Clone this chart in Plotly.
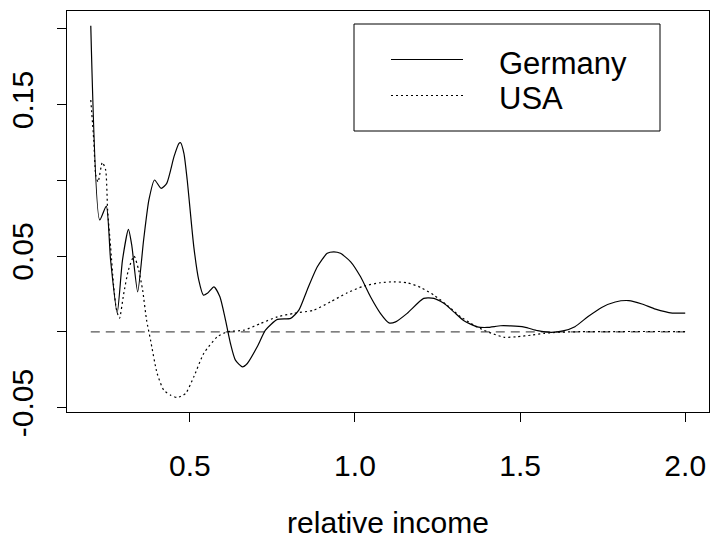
import plotly.graph_objects as go

# Germany: relative-income density difference curve
germany_x = [0.200, 0.227, 0.247, 0.260, 0.280, 0.296, 0.314, 0.324, 0.342, 0.360,
             0.376, 0.393, 0.413, 0.430, 0.452, 0.467, 0.472, 0.482, 0.492, 0.512,
             0.527, 0.541, 0.553, 0.573, 0.591, 0.608, 0.623, 0.638, 0.659, 0.674,
             0.704, 0.729, 0.765, 0.805, 0.830, 0.855, 0.886, 0.916, 0.936, 0.956,
             0.987, 1.017, 1.047, 1.077, 1.103, 1.123, 1.158, 1.208, 1.239, 1.269,
             1.299, 1.330, 1.370, 1.400, 1.441, 1.472, 1.513, 1.553, 1.594, 1.630,
             1.666, 1.706, 1.747, 1.788, 1.829, 1.869, 1.910, 1.961, 2.000]
germany_y = [0.2019, 0.0738, 0.0830, 0.0474, 0.0125, 0.0473, 0.0676, 0.0573, 0.0264, 0.0606,
             0.0870, 0.1002, 0.0947, 0.0980, 0.1156, 0.1244, 0.1248, 0.1178, 0.1002, 0.0561,
             0.0341, 0.0242, 0.0254, 0.0297, 0.0231, 0.0077, -0.0077, -0.0187, -0.0231, -0.0209,
             -0.0099, 0.0011, 0.0082, 0.0089, 0.0143, 0.0275, 0.0429, 0.0518, 0.0528, 0.0518,
             0.0462, 0.0363, 0.0231, 0.0122, 0.0059, 0.0066, 0.0122, 0.0221, 0.0221, 0.0188,
             0.0132, 0.0073, 0.0033, 0.0029, 0.0040, 0.0039, 0.0031, 0.0008, -0.0003, 0.0006,
             0.0034, 0.0101, 0.0161, 0.0197, 0.0206, 0.0184, 0.0150, 0.0124, 0.0124]

# USA: same measure
usa_x = [0.200, 0.209, 0.215, 0.222, 0.235, 0.245, 0.251, 0.260, 0.269, 0.278,
         0.287, 0.299, 0.314, 0.331, 0.345, 0.357, 0.369, 0.381, 0.401, 0.421,
         0.442, 0.462, 0.487, 0.512, 0.542, 0.583, 0.613, 0.664, 0.714, 0.765,
         0.815, 0.875, 0.926, 0.977, 1.027, 1.077, 1.118, 1.158, 1.199, 1.239,
         1.279, 1.320, 1.360, 1.390, 1.420, 1.452, 1.492, 1.533, 1.574, 1.614,
         1.683, 1.804, 2.000]
usa_y = [0.1530, 0.1266, 0.1035, 0.0989, 0.1119, 0.1068, 0.0804, 0.0561, 0.0308, 0.0143,
         0.0090, 0.0242, 0.0408, 0.0500, 0.0408, 0.0275, 0.0077, -0.0055, -0.0275, -0.0385,
         -0.0418, -0.0433, -0.0407, -0.0297, -0.0143, -0.0033, 0.0000, 0.0011, 0.0055, 0.0099,
         0.0122, 0.0143, 0.0198, 0.0258, 0.0302, 0.0324, 0.0330, 0.0324, 0.0293, 0.0242,
         0.0176, 0.0099, 0.0044, 0.0011, -0.0015, -0.0036, -0.0032, -0.0022, -0.0010, -0.0003,
         0.0001, 0.0002, 0.0002]

# reference level
zero_x = [0.2, 2.0]
zero_y = [0.0, 0.0]

x_ticks = [0.5, 1.0, 1.5, 2.0]
x_tick_text = ["0.5", "1.0", "1.5", "2.0"]
y_ticks = [-0.05, 0.0, 0.05, 0.10, 0.15, 0.20]
y_tick_text = ["-0.05", "", "0.05", "", "0.15", ""]

FONT = "Liberation Sans, Arial, Helvetica, sans-serif"
FS = 30

fig = go.Figure()
fig.add_trace(go.Scatter(x=zero_x, y=zero_y, mode="lines",
                         line=dict(color="#555555", width=1.4, dash="9px,6px"),
                         showlegend=False, hoverinfo="skip"))
fig.add_trace(go.Scatter(x=usa_x, y=usa_y, mode="lines", name="USA",
                         line=dict(color="black", width=1.2, dash="2px,3px", shape="spline", smoothing=0.6),
                         showlegend=False))
fig.add_trace(go.Scatter(x=germany_x, y=germany_y, mode="lines", name="Germany",
                         line=dict(color="black", width=1.2, shape="spline", smoothing=0.6),
                         showlegend=False))

# legend drawn as a boxed key in the upper right
W0, W1, H0, H1 = 67, 709, 11, 412


def px(x):
    return (x - W0) / (W1 - W0)


def py(y):
    return (H1 - y) / (H1 - H0)


shapes = [
    dict(type="rect", xref="paper", yref="paper", x0=px(354), x1=px(660), y0=py(131), y1=py(24),
         line=dict(color="black", width=1), fillcolor="white", layer="above"),
    dict(type="line", xref="paper", yref="paper", x0=px(391), x1=px(463), y0=py(59.5), y1=py(59.5),
         line=dict(color="black", width=1.2), layer="above"),
    dict(type="line", xref="paper", yref="paper", x0=px(391), x1=px(463), y0=py(95.5), y1=py(95.5),
         line=dict(color="black", width=1.2, dash="2px,3px"), layer="above"),
]
annotations = [
    dict(text="Germany", xref="paper", yref="paper", x=px(497), y=py(63), xanchor="left", yanchor="middle",
         showarrow=False, font=dict(family=FONT, size=31, color="black")),
    dict(text="USA", xref="paper", yref="paper", x=px(497), y=py(98), xanchor="left", yanchor="middle",
         showarrow=False, font=dict(family=FONT, size=31, color="black")),
]

fig.update_layout(
    width=712, height=539, autosize=False,
    margin=dict(l=W0, r=712 - W1, t=H0, b=539 - H1),
    paper_bgcolor="white", plot_bgcolor="white",
    font=dict(family=FONT, size=FS, color="black"),
    shapes=shapes, annotations=annotations,
    xaxis=dict(range=[0.128, 2.072], tickvals=x_ticks, ticktext=x_tick_text,
               ticks="outside", ticklen=9, tickwidth=1, tickcolor="black",
               showline=True, linecolor="black", linewidth=1, mirror=True,
               showgrid=False, zeroline=False, ticklabelstandoff=18,
               title=dict(text="relative income", standoff=34, font=dict(size=FS)),
               tickfont=dict(size=FS)),
    yaxis=dict(range=[-0.0529, 0.2117], tickvals=y_ticks, ticktext=y_tick_text,
               ticks="outside", ticklen=9, tickwidth=1, tickcolor="black",
               showline=True, linecolor="black", linewidth=1, mirror=True,
               showgrid=False, zeroline=False, tickangle=-90, ticklabelstandoff=12,
               tickfont=dict(size=FS)),
)

fig.write_html("out.html")
